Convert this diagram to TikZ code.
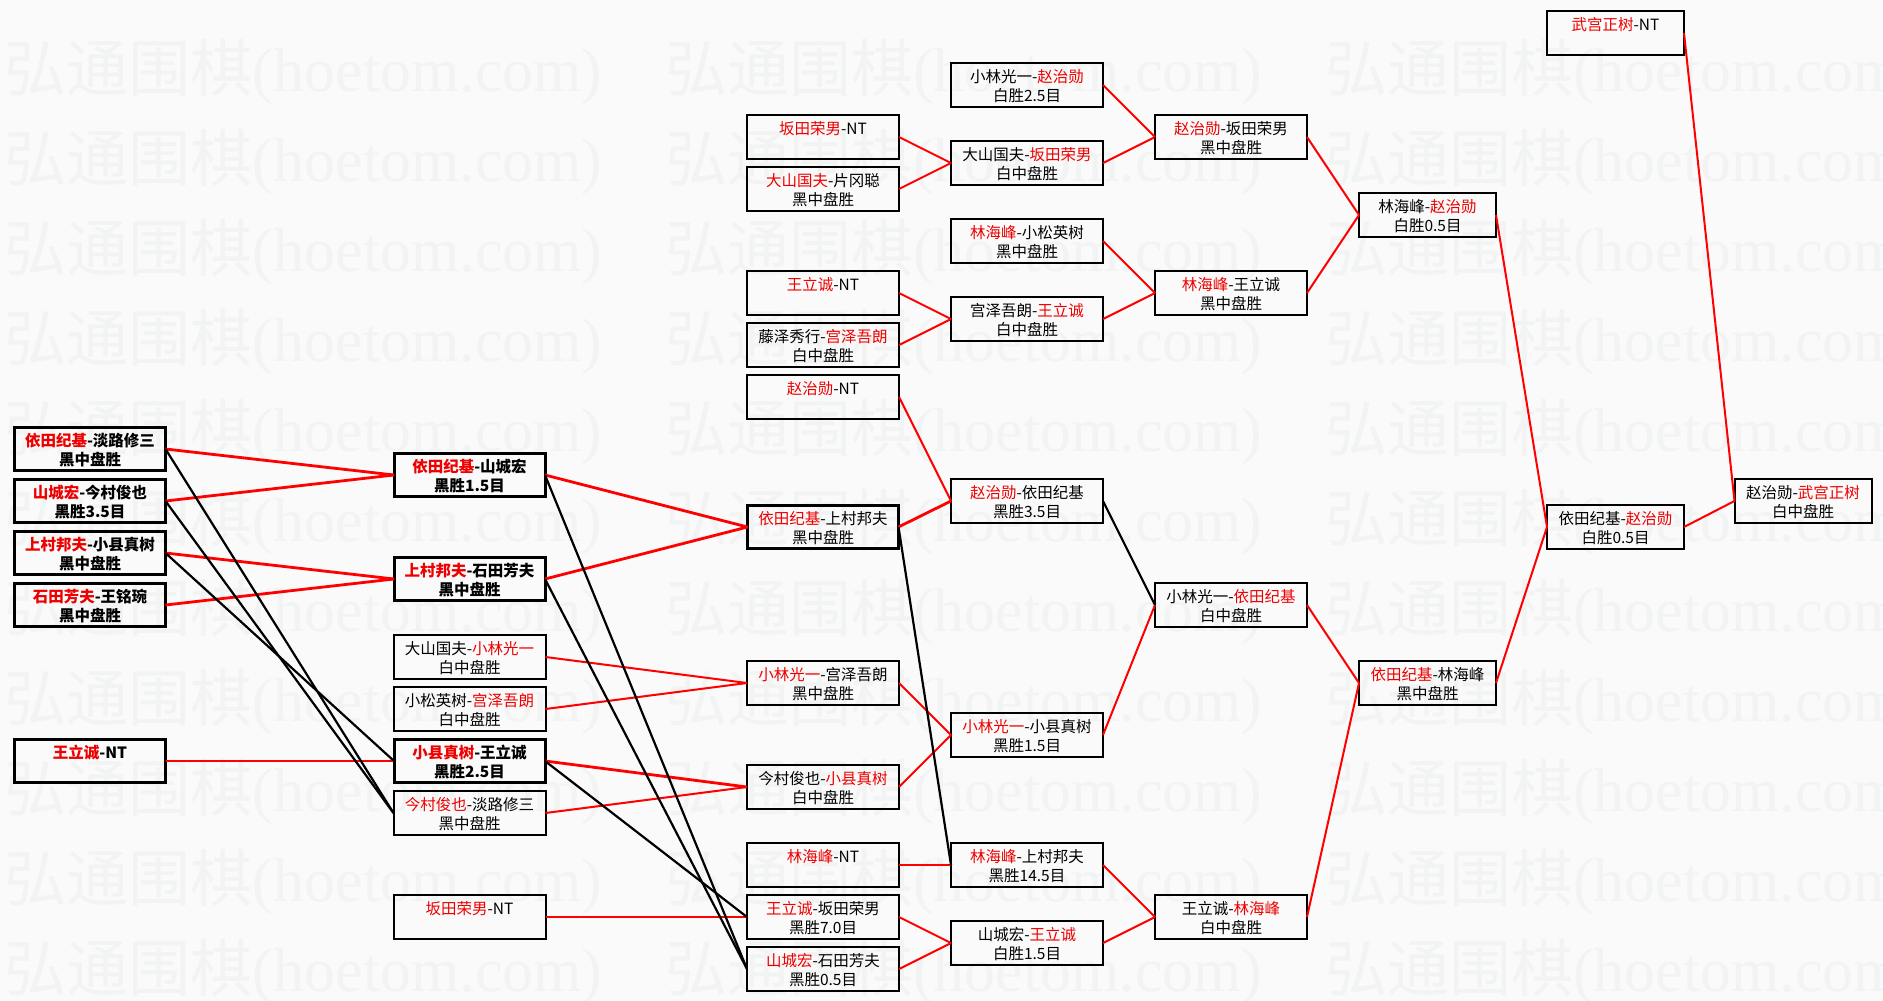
\documentclass[tikz,border=0pt]{standalone}
\usepackage{fontspec}
\setmainfont{Noto Sans CJK SC}
\newfontfamily\wmcjk{Noto Sans CJK SC}
\newfontfamily\wmlat{Liberation Serif}
\definecolor{bgc}{RGB}{250,250,250}
\definecolor{wmc}{RGB}{242,243,243}
\definecolor{wred}{RGB}{238,0,0}
\newcommand\winner[1]{\textcolor{wred}{#1}}
\newcommand\mystrut{\rule[-2pt]{0pt}{18.5pt}}
\newcommand\boxfont{\fontsize{15.5}{19.3}\selectfont}
\tikzset{
  box/.style={draw=black, line width=2pt, inner sep=0pt, outer sep=0pt,
    minimum height=44pt, minimum width=152pt, align=center, font=\boxfont},
  tbox/.style={box, line width=3pt, minimum height=43pt, minimum width=151pt},
  bbox/.style={tbox, font=\boxfont\bfseries},
  narrow/.style={minimum width=137pt},
  win/.style={draw=red, line width=2pt},
  winb/.style={draw=red, line width=2.8pt},
  lose/.style={draw=black, line width=2.2pt},
  wm/.style={inner sep=0pt, outer sep=0pt, text=wmc, font=\fontsize{62}{62}\selectfont, anchor=base west}
}
\begin{document}
\begin{tikzpicture}[x=1pt,y=-1pt]
\useasboundingbox (0,0) rectangle (1883,1001);
\fill[bgc] (0,0) rectangle (1883,1001);
\begin{scope}
\clip (0,0) rectangle (1883,1001);
\foreach \r in {0,...,10}{
  \foreach \c in {0,1,2}{
    \node[wm] (wm-\r-\c) at ({5+660*\c},{91+90*\r}) {{\wmcjk 弘通围棋}{\wmlat (hoetom.com)}};
  }
}
\end{scope}
% column 1
\node[bbox] (a1) at (90,449) {\mystrut\winner{依田纪基}-淡路修三\\\mystrut 黑中盘胜};
\node[bbox] (a2) at (90,501) {\mystrut\winner{山城宏}-今村俊也\\\mystrut 黑胜3.5目};
\node[bbox] (a3) at (90,553) {\mystrut\winner{上村邦夫}-小县真树\\\mystrut 黑中盘胜};
\node[bbox] (a4) at (90,605) {\mystrut\winner{石田芳夫}-王铭琬\\\mystrut 黑中盘胜};
\node[bbox] (a5) at (90,761) {\mystrut\winner{王立诚}-NT\\\mystrut};
% column 2
\node[bbox] (b1) at (469.5,475) {\mystrut\winner{依田纪基}-山城宏\\\mystrut 黑胜1.5目};
\node[bbox] (b2) at (469.5,579) {\mystrut\winner{上村邦夫}-石田芳夫\\\mystrut 黑中盘胜};
\node[box] (b3) at (469.5,657) {\mystrut 大山国夫-\winner{小林光一}\\\mystrut 白中盘胜};
\node[box] (b4) at (469.5,709) {\mystrut 小松英树-\winner{宫泽吾朗}\\\mystrut 白中盘胜};
\node[bbox] (b5) at (469.5,761) {\mystrut\winner{小县真树}-王立诚\\\mystrut 黑胜2.5目};
\node[box] (b6) at (469.5,813) {\mystrut\winner{今村俊也}-淡路修三\\\mystrut 黑中盘胜};
\node[box] (b7) at (469.5,917) {\mystrut\winner{坂田荣男}-NT\\\mystrut};
% column 3
\node[box] (c1) at (823,137) {\mystrut\winner{坂田荣男}-NT\\\mystrut};
\node[box] (c2) at (823,189) {\mystrut\winner{大山国夫}-片冈聪\\\mystrut 黑中盘胜};
\node[box] (c3) at (823,293) {\mystrut\winner{王立诚}-NT\\\mystrut};
\node[box] (c4) at (823,345) {\mystrut 藤泽秀行-\winner{宫泽吾朗}\\\mystrut 白中盘胜};
\node[box] (c5) at (823,397) {\mystrut\winner{赵治勋}-NT\\\mystrut};
\node[tbox] (c6) at (823,527) {\mystrut\winner{依田纪基}-上村邦夫\\\mystrut 黑中盘胜};
\node[box] (c7) at (823,683) {\mystrut\winner{小林光一}-宫泽吾朗\\\mystrut 黑中盘胜};
\node[box] (c8) at (823,787) {\mystrut 今村俊也-\winner{小县真树}\\\mystrut 白中盘胜};
\node[box] (c9) at (823,865) {\mystrut\winner{林海峰}-NT\\\mystrut};
\node[box] (c10) at (823,917) {\mystrut\winner{王立诚}-坂田荣男\\\mystrut 黑胜7.0目};
\node[box] (c11) at (823,969) {\mystrut\winner{山城宏}-石田芳夫\\\mystrut 黑胜0.5目};
% column 4
\node[box] (d1) at (1027,85) {\mystrut 小林光一-\winner{赵治勋}\\\mystrut 白胜2.5目};
\node[box] (d2) at (1027,163) {\mystrut 大山国夫-\winner{坂田荣男}\\\mystrut 白中盘胜};
\node[box] (d3) at (1027,241) {\mystrut\winner{林海峰}-小松英树\\\mystrut 黑中盘胜};
\node[box] (d4) at (1027,319) {\mystrut 宫泽吾朗-\winner{王立诚}\\\mystrut 白中盘胜};
\node[box] (d5) at (1027,501) {\mystrut\winner{赵治勋}-依田纪基\\\mystrut 黑胜3.5目};
\node[box] (d6) at (1027,735) {\mystrut\winner{小林光一}-小县真树\\\mystrut 黑胜1.5目};
\node[box] (d7) at (1027,865) {\mystrut\winner{林海峰}-上村邦夫\\\mystrut 黑胜14.5目};
\node[box] (d8) at (1027,943) {\mystrut 山城宏-\winner{王立诚}\\\mystrut 白胜1.5目};
% column 5
\node[box] (e1) at (1231,137) {\mystrut\winner{赵治勋}-坂田荣男\\\mystrut 黑中盘胜};
\node[box] (e2) at (1231,293) {\mystrut\winner{林海峰}-王立诚\\\mystrut 黑中盘胜};
\node[box] (e3) at (1231,605) {\mystrut 小林光一-\winner{依田纪基}\\\mystrut 白中盘胜};
\node[box] (e4) at (1231,917) {\mystrut 王立诚-\winner{林海峰}\\\mystrut 白中盘胜};
% column 6
\node[box,narrow] (f1) at (1427.5,215) {\mystrut 林海峰-\winner{赵治勋}\\\mystrut 白胜0.5目};
\node[box,narrow] (f2) at (1427.5,683) {\mystrut\winner{依田纪基}-林海峰\\\mystrut 黑中盘胜};
% column 7
\node[box,narrow] (g1) at (1615.5,33) {\mystrut\winner{武宫正树}-NT\\\mystrut};
\node[box,narrow] (g2) at (1615.5,527) {\mystrut 依田纪基-\winner{赵治勋}\\\mystrut 白胜0.5目};
% column 8
\node[box,narrow] (h1) at (1803,501) {\mystrut 赵治勋-\winner{武宫正树}\\\mystrut 白中盘胜};
% winners
\draw[winb] (a1.east) -- (b1.west);
\draw[winb] (a2.east) -- (b1.west);
\draw[winb] (a3.east) -- (b2.west);
\draw[winb] (a4.east) -- (b2.west);
\draw[winb] (a5.east) -- (b5.west);
\draw[winb] (b1.east) -- (c6.west);
\draw[winb] (b2.east) -- (c6.west);
\draw[win] (b3.east) -- (c7.west);
\draw[win] (b4.east) -- (c7.west);
\draw[winb] (b5.east) -- (c8.west);
\draw[win] (b6.east) -- (c8.west);
\draw[win] (b7.east) -- (c10.west);
\draw[win] (c1.east) -- (d2.west);
\draw[win] (c2.east) -- (d2.west);
\draw[win] (c3.east) -- (d4.west);
\draw[win] (c4.east) -- (d4.west);
\draw[win] (c5.east) -- (d5.west);
\draw[winb] (c6.east) -- (d5.west);
\draw[win] (c7.east) -- (d6.west);
\draw[win] (c8.east) -- (d6.west);
\draw[win] (c9.east) -- (d7.west);
\draw[win] (c10.east) -- (d8.west);
\draw[win] (c11.east) -- (d8.west);
\draw[win] (d1.east) -- (e1.west);
\draw[win] (d2.east) -- (e1.west);
\draw[win] (d3.east) -- (e2.west);
\draw[win] (d4.east) -- (e2.west);
\draw[win] (d6.east) -- (e3.west);
\draw[win] (d7.east) -- (e4.west);
\draw[win] (d8.east) -- (e4.west);
\draw[win] (e1.east) -- (f1.west);
\draw[win] (e2.east) -- (f1.west);
\draw[win] (e3.east) -- (f2.west);
\draw[win] (e4.east) -- (f2.west);
\draw[win] (f1.east) -- (g2.west);
\draw[win] (f2.east) -- (g2.west);
\draw[win] (g1.east) -- (h1.west);
\draw[win] (g2.east) -- (h1.west);
% losers
\draw[lose] (a1.east) -- (b6.west);
\draw[lose] (a2.east) -- (b6.west);
\draw[lose] (a3.east) -- (b5.west);
\draw[lose] (b1.east) -- (c11.west);
\draw[lose] (b2.east) -- (c11.west);
\draw[lose] (b5.east) -- (c10.west);
\draw[lose] (c6.east) -- (d7.west);
\draw[lose] (d5.east) -- (e3.west);
\end{tikzpicture}
\end{document}
